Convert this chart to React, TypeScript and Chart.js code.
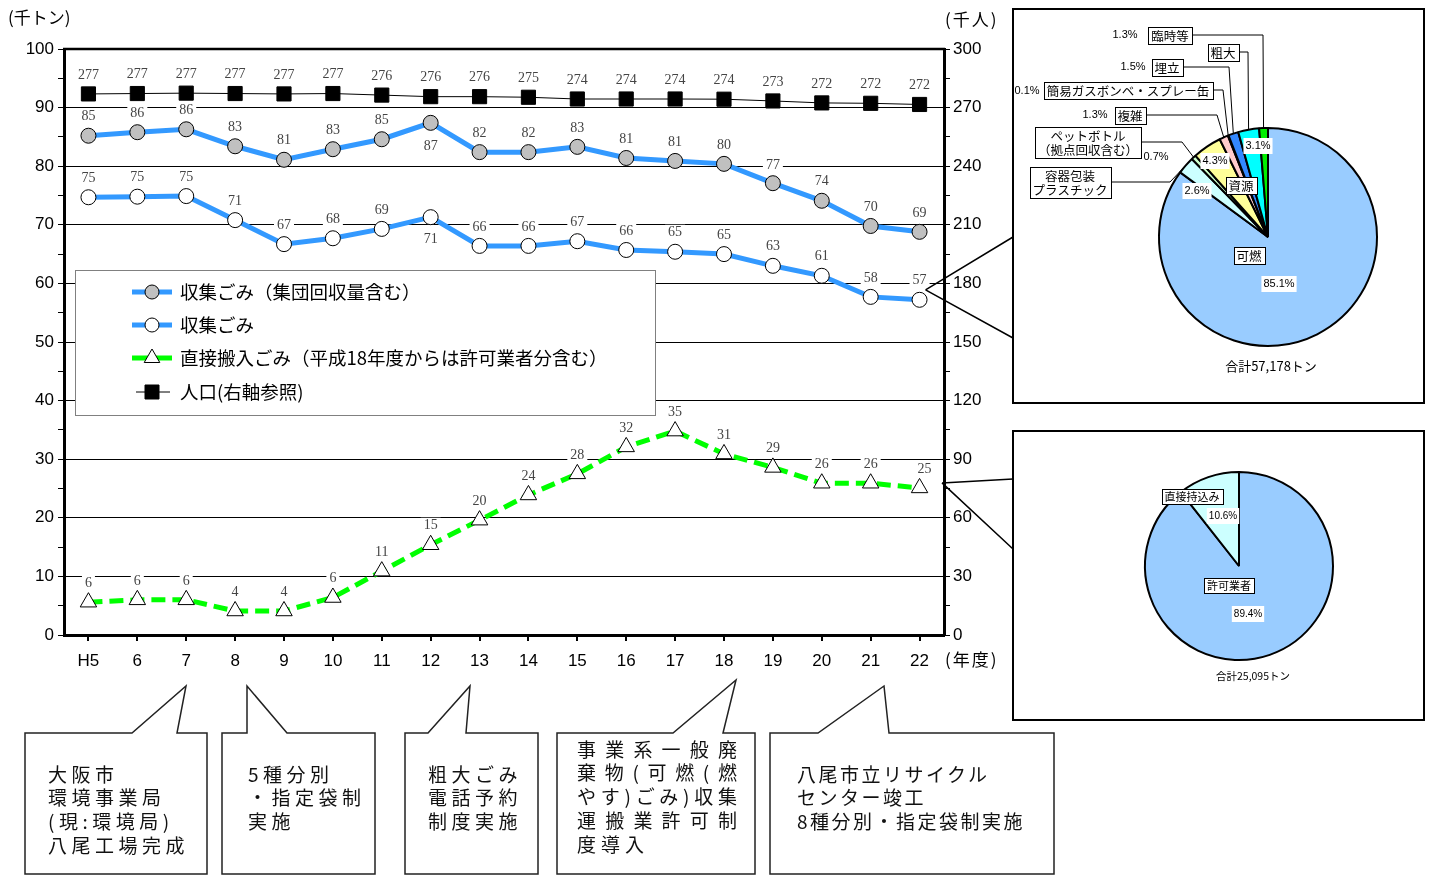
import React, { useEffect, useRef } from 'react';
import { Chart, registerables } from 'chart.js';

Chart.register(...registerables);

// 年度
const fiscalYears = ['H5', '6', '7', '8', '9', '10', '11', '12', '13', '14', '15', '16', '17', '18', '19', '20', '21', '22'];
// 千トン
const collectedWithGroup = [85.2, 85.8, 86.3, 83.4, 81.1, 82.9, 84.6, 87.4, 82.4, 82.4, 83.3, 81.4, 80.9, 80.4, 77.1, 74.1, 69.8, 68.8];
const collected = [74.7, 74.8, 74.9, 70.8, 66.7, 67.7, 69.3, 71.3, 66.4, 66.4, 67.2, 65.7, 65.4, 65.0, 63.0, 61.3, 57.7, 57.2];
const directlyDelivered = [5.6, 6.0, 6.0, 4.1, 4.1, 6.4, 10.9, 15.4, 19.6, 23.9, 27.5, 32.1, 34.8, 30.9, 28.6, 25.9, 25.9, 25.1];
// 千人
const population = [277.0, 277.2, 277.4, 277.2, 277.0, 277.2, 276.4, 275.6, 275.6, 275.3, 274.4, 274.4, 274.4, 274.3, 273.4, 272.4, 272.2, 271.6];

const seriesNames = [
  '収集ごみ（集団回収量含む）',
  '収集ごみ',
  '直接搬入ごみ（平成18年度からは許可業者分含む）',
  '人口(右軸参照)',
];

const tonnageTicks = [0, 10, 20, 30, 40, 50, 60, 70, 80, 90, 100];
const populationTicks = [0, 30, 60, 90, 120, 150, 180, 210, 240, 270, 300];

// 平成22年度 収集ごみ内訳 (%)
const compositionNames = [
  ['可燃'],
  ['容器包装', 'プラスチック'],
  ['ペットボトル', '（拠点回収含む）'],
  ['資源'],
  ['複雑'],
  ['簡易ガスボンベ・スプレー缶'],
  ['埋立'],
  ['粗大'],
  ['臨時等'],
];
const compositionShares = [85.1, 2.6, 0.7, 4.3, 1.3, 0.1, 1.5, 3.1, 1.3];
const compositionColors = ['#99CCFF', '#CCFFFF', '#CCFFCC', '#FFFF99', '#FFCCCC', '#FF99CC', '#3388FF', '#00FFFF', '#00EE00'];
const compositionTotal = 57178;

// 平成22年度 直接搬入ごみ内訳 (%)
const sourceNames = [['許可業者'], ['直接持込み']];
const sourceShares = [89.4, 10.6];
const sourceColors = ['#99CCFF', '#CCFFFF'];
const sourceTotal = 25095;

const SERIF = '"Liberation Serif", "DejaVu Serif", serif';
const SANS = '"Liberation Sans", Arial, sans-serif';
const JP = '"Noto Sans CJK JP", "Noto Sans", sans-serif';
const BLUE = '#3399FF';
const GREEN = '#00FF00';

// per-point label offsets (dx, dy) relative to the marker
const DEFAULT_SHIFT: [number, number] = [0, -19];
const labelShifts: Array<Record<number, [number, number]>> = [
  { 7: [0, 23], 14: [0, -18] },
  { 7: [0, 22] },
  { 17: [5, -19] },
  {},
];

function labelAnchors(chart: any) {
  const out: { x: number; y: number; text: string }[] = [];
  chart.data.datasets.forEach((ds: any, di: number) => {
    const meta = chart.getDatasetMeta(di);
    meta.data.forEach((el: any, i: number) => {
      const s = labelShifts[di][i] || DEFAULT_SHIFT;
      out.push({ x: el.x + s[0], y: el.y + s[1], text: String(Math.round(ds.data[i])) });
    });
  });
  return out;
}

function drawMarker(ctx: CanvasRenderingContext2D, kind: string, x: number, y: number, fill: string) {
  ctx.save();
  ctx.fillStyle = fill;
  ctx.strokeStyle = '#000';
  ctx.lineWidth = 1;
  ctx.beginPath();
  if (kind === 'circle') {
    ctx.arc(x, y, 7, 0, Math.PI * 2);
  } else if (kind === 'triangle') {
    const r = 9;
    ctx.moveTo(x, y - r);
    ctx.lineTo(x + r * 0.866, y + r * 0.5);
    ctx.lineTo(x - r * 0.866, y + r * 0.5);
    ctx.closePath();
  } else {
    ctx.rect(x - 7, y - 7, 14, 14);
  }
  ctx.fill();
  ctx.stroke();
  ctx.restore();
}

const legendRows = [
  { ds: 0, y: 292, color: BLUE, width: 5, marker: 'circle', fill: '#C0C0C0', from: 132, to: 172 },
  { ds: 1, y: 325, color: BLUE, width: 5, marker: 'circle', fill: '#FFFFFF', from: 132, to: 172 },
  { ds: 2, y: 358, color: GREEN, width: 5, marker: 'triangle', fill: '#FFFFFF', from: 132, to: 172 },
  { ds: 3, y: 392, color: '#000', width: 1, marker: 'rect', fill: '#000', from: 136, to: 170 },
];

const trendPlugin = {
  id: 'trendDecor',
  beforeDatasetsDraw(chart: any) {
    const ctx: CanvasRenderingContext2D = chart.ctx;
    ctx.save();
    // legend
    ctx.fillStyle = '#fff';
    ctx.fillRect(75, 270, 580, 145);
    ctx.strokeStyle = '#808080';
    ctx.lineWidth = 1;
    ctx.strokeRect(75.5, 270.5, 580, 145);
    legendRows.forEach((r) => {
      ctx.strokeStyle = r.color;
      ctx.lineWidth = r.width;
      ctx.beginPath();
      ctx.moveTo(r.from, r.y);
      ctx.lineTo(r.to, r.y);
      ctx.stroke();
      drawMarker(ctx, r.marker, 152, r.y, r.fill);
      ctx.fillStyle = '#000';
      ctx.font = `18.5px ${JP}`;
      ctx.textAlign = 'left';
      ctx.textBaseline = 'middle';
      ctx.fillText(chart.data.datasets[r.ds].label, 180, r.y);
    });
    // white pads behind the value labels
    ctx.font = `14px ${SERIF}`;
    ctx.fillStyle = '#fff';
    labelAnchors(chart).forEach((a) => {
      const w = ctx.measureText(a.text).width;
      ctx.fillRect(a.x - w / 2 - 3, a.y - 8, w + 6, 16);
    });
    ctx.restore();
  },
  afterDatasetsDraw(chart: any) {
    const ctx: CanvasRenderingContext2D = chart.ctx;
    ctx.save();
    ctx.font = `14px ${SERIF}`;
    ctx.fillStyle = '#444';
    ctx.textAlign = 'center';
    ctx.textBaseline = 'middle';
    labelAnchors(chart).forEach((a) => ctx.fillText(a.text, a.x, a.y));
    ctx.restore();
  },
  afterDraw(chart: any) {
    const ctx: CanvasRenderingContext2D = chart.ctx;
    const area = chart.chartArea;
    ctx.save();
    // frame top
    ctx.strokeStyle = '#000';
    ctx.lineWidth = 2.5;
    ctx.beginPath();
    ctx.moveTo(area.left - 1, area.top);
    ctx.lineTo(area.right + 1, area.top);
    ctx.stroke();
    // unit captions
    ctx.fillStyle = '#000';
    ctx.font = `17px ${JP}`;
    ctx.textBaseline = 'middle';
    ctx.textAlign = 'left';
    (ctx as any).letterSpacing = '0px';
    ctx.fillText('(千トン)', 8, 18);
    (ctx as any).letterSpacing = '2px';
    ctx.fillText('(千人)', 945, 20);
    ctx.fillText('(年度)', 945, 660);
    (ctx as any).letterSpacing = '0px';
    // side panels
    ctx.lineWidth = 2;
    ctx.strokeRect(1013, 9, 411, 394);
    ctx.strokeRect(1013, 431, 411, 289);
    // connectors from the latest year to the breakdown panels
    const pW = chart.getDatasetMeta(1).data[fiscalYears.length - 1];
    const pG = chart.getDatasetMeta(2).data[fiscalYears.length - 1];
    ctx.lineWidth = 1.5;
    ctx.beginPath();
    ctx.moveTo(pW.x + 6, pW.y - 10);
    ctx.lineTo(1013, 237);
    ctx.moveTo(pW.x + 6, pW.y - 10);
    ctx.lineTo(1013, 338);
    ctx.moveTo(area.right - 2, pG.y - 5);
    ctx.lineTo(1013, 479);
    ctx.moveTo(area.right - 2, pG.y - 5);
    ctx.lineTo(1013, 549);
    ctx.stroke();
    ctx.restore();
  },
};

type PieNote = { box: [number, number]; pct: [number, number]; pctBg?: boolean; bend?: number };

const compositionNotes: PieNote[] = [
  { box: [1249, 255], pct: [1279, 284], pctBg: true },
  { box: [1070, 182], pct: [1197, 191], pctBg: true, bend: 1170 },
  { box: [1088, 142], pct: [1156, 157], bend: 1182 },
  { box: [1241, 185], pct: [1215, 161], pctBg: true },
  { box: [1130, 115], pct: [1095, 115], bend: 1217 },
  { box: [1128, 90], pct: [1027, 91], bend: 1223 },
  { box: [1167, 67], pct: [1133, 67], bend: 1229 },
  { box: [1223, 52], pct: [1258, 146], pctBg: true, bend: 1248 },
  { box: [1170, 35], pct: [1125, 35], bend: 1263 },
];

const sourceNotes: PieNote[] = [
  { box: [1229, 585], pct: [1248, 614], pctBg: true },
  { box: [1192, 496], pct: [1223, 516], pctBg: true },
];

function pieNotesPlugin(opts: {
  origin: [number, number];
  names: string[][];
  shares: number[];
  notes: PieNote[];
  total: number;
  totalAt: [number, number];
  nameFont: string;
  nameLine: number;
  pctFont: string;
  totalFont: string;
}) {
  return {
    id: 'pieNotes',
    afterDraw(chart: any) {
      const ctx: CanvasRenderingContext2D = chart.ctx;
      const arcs = chart.getDatasetMeta(0).data;
      const [ox, oy] = opts.origin;
      ctx.save();
      // annotation positions are given in page coordinates
      ctx.translate(-ox, -oy);
      ctx.textAlign = 'center';
      ctx.textBaseline = 'middle';
      opts.notes.forEach((n, i) => {
        const lines = opts.names[i];
        ctx.font = opts.nameFont;
        const w = Math.round(Math.max(...lines.map((l) => ctx.measureText(l).width)) + 6);
        const h = lines.length * opts.nameLine + 3;
        const bx = Math.round(n.box[0] - w / 2);
        const by = Math.round(n.box[1] - h / 2);
        if (n.bend !== undefined) {
          const a = arcs[i];
          const mid = (a.startAngle + a.endAngle) / 2;
          const px = ox + a.x + Math.cos(mid) * a.outerRadius;
          const py = oy + a.y + Math.sin(mid) * a.outerRadius;
          ctx.strokeStyle = '#000';
          ctx.lineWidth = 1;
          ctx.beginPath();
          ctx.moveTo(bx + w, n.box[1]);
          ctx.lineTo(n.bend, n.box[1]);
          ctx.lineTo(px, py);
          ctx.stroke();
        }
        ctx.fillStyle = '#fff';
        ctx.fillRect(bx, by, w, h);
        ctx.strokeStyle = '#000';
        ctx.lineWidth = 1;
        ctx.strokeRect(bx + 0.5, by + 0.5, w, h);
        ctx.fillStyle = '#000';
        lines.forEach((l, k) => ctx.fillText(l, n.box[0], by + 2 + opts.nameLine * (k + 0.5)));
        ctx.font = opts.pctFont;
        const t = opts.shares[i].toFixed(1) + '%';
        if (n.pctBg) {
          const tw = ctx.measureText(t).width;
          ctx.fillStyle = '#fff';
          ctx.fillRect(n.pct[0] - tw / 2 - 2, n.pct[1] - 8, tw + 4, 16);
        }
        ctx.fillStyle = '#000';
        ctx.fillText(t, n.pct[0], n.pct[1]);
      });
      ctx.font = opts.totalFont;
      ctx.fillStyle = '#000';
      ctx.fillText(`合計${opts.total.toLocaleString('en-US')}トン`, opts.totalAt[0], opts.totalAt[1]);
      ctx.restore();
    },
  };
}

const callouts = [
  { shape: 'M25,733 H132 L186,686 L177,733 H207 V874 H25 Z', x: 48, y: 773, lines: ['大阪市', '環境事業局', '(現:環境局)', '八尾工場完成'], spacing: 4.5, justify: 0, justifyRows: 0 },
  { shape: 'M222,733 H247 V686 L287,733 H375 V874 H222 Z', x: 248, y: 773, lines: ['5種分別', '・指定袋制', '実施'], spacing: 4.5, justify: 0, justifyRows: 0 },
  { shape: 'M405,733 H428 L470,686 L466,733 H538 V874 H405 Z', x: 428, y: 773, lines: ['粗大ごみ', '電話予約', '制度実施'], spacing: 4.5, justify: 0, justifyRows: 0 },
  { shape: 'M557,733 H673 L736,680 L723,733 H755 V874 H557 Z', x: 577, y: 748, lines: ['事業系一般廃', '棄物(可燃(燃', 'やす)ごみ)収集', '運搬業許可制', '度導入'], spacing: 5, justify: 160, justifyRows: 4 },
  { shape: 'M770,733 H818 L884,686 L889,733 H1054 V874 H770 Z', x: 797, y: 773, lines: ['八尾市立リサイクル', 'センター竣工', '8種分別・指定袋制実施'], spacing: 2.5, justify: 0, justifyRows: 0 },
];

export default function App() {
  const mainRef = useRef<HTMLCanvasElement>(null);
  const pie1Ref = useRef<HTMLCanvasElement>(null);
  const pie2Ref = useRef<HTMLCanvasElement>(null);

  useEffect(() => {
    const tMin = tonnageTicks[0];
    const tMax = tonnageTicks[tonnageTicks.length - 1];
    const tStep = tonnageTicks[1] - tonnageTicks[0];
    const pMin = populationTicks[0];
    const pMax = populationTicks[populationTicks.length - 1];
    const pStep = populationTicks[1] - populationTicks[0];

    const main = new Chart(mainRef.current!, {
      type: 'line',
      data: {
        labels: fiscalYears,
        datasets: [
          {
            label: seriesNames[0],
            data: collectedWithGroup,
            yAxisID: 'y',
            borderColor: BLUE,
            borderWidth: 5,
            pointStyle: 'circle',
            pointRadius: 7.5,
            pointBackgroundColor: '#C0C0C0',
            pointBorderColor: '#000',
            pointBorderWidth: 1,
          },
          {
            label: seriesNames[1],
            data: collected,
            yAxisID: 'y',
            borderColor: BLUE,
            borderWidth: 5,
            pointStyle: 'circle',
            pointRadius: 7.5,
            pointBackgroundColor: '#FFFFFF',
            pointBorderColor: '#000',
            pointBorderWidth: 1,
          },
          {
            label: seriesNames[2],
            data: directlyDelivered,
            yAxisID: 'y',
            borderColor: GREEN,
            borderWidth: 5,
            borderDash: [14, 7],
            pointStyle: 'triangle',
            pointRadius: 9.5,
            pointBackgroundColor: '#FFFFFF',
            pointBorderColor: '#000',
            pointBorderWidth: 1,
          },
          {
            label: seriesNames[3],
            data: population,
            yAxisID: 'y1',
            borderColor: '#000',
            borderWidth: 1,
            pointStyle: 'rect',
            pointRadius: 10,
            pointBackgroundColor: '#000',
            pointBorderColor: '#000',
            pointBorderWidth: 1,
          },
        ],
      },
      options: {
        animation: false,
        responsive: false,
        devicePixelRatio: 1,
        layout: { padding: { left: 0, top: 49, right: 428, bottom: 201 } },
        plugins: { legend: { display: false }, tooltip: { enabled: false } },
        scales: {
          x: {
            type: 'category',
            offset: true,
            grid: { offset: false, drawOnChartArea: false, color: '#000', lineWidth: 2, tickLength: 6 },
            border: { color: '#000', width: 3 },
            ticks: { color: '#000', font: { family: SANS, size: 17 }, padding: 10, maxRotation: 0, autoSkip: false },
            afterFit: (s: any) => { s.height = 40; },
          },
          y: {
            position: 'left',
            min: tMin,
            max: tMax,
            ticks: {
              stepSize: tStep / 2,
              autoSkip: false,
              color: '#000',
              font: { family: SANS, size: 17 },
              padding: 4,
              callback: (v: any) => (tonnageTicks.includes(Number(v)) ? String(v) : ''),
            },
            grid: {
              color: (c: any) => (c.tick && c.tick.value % tStep === 0 && c.tick.value > tMin && c.tick.value < tMax ? '#000' : 'rgba(0,0,0,0)'),
              tickColor: '#000',
              tickLength: 6,
              lineWidth: 1,
            },
            border: { color: '#000', width: 3 },
            afterFit: (s: any) => { s.width = 64; },
          },
          y1: {
            position: 'right',
            min: pMin,
            max: pMax,
            ticks: {
              stepSize: pStep / 2,
              autoSkip: false,
              color: '#000',
              font: { family: SANS, size: 17 },
              padding: 3,
              callback: (v: any) => (populationTicks.includes(Number(v)) ? String(v) : ''),
            },
            grid: { drawOnChartArea: false, color: '#000', tickColor: '#000', tickLength: 6 },
            border: { color: '#000', width: 3 },
            afterFit: (s: any) => { s.width = 60; },
          },
        },
      },
      plugins: [trendPlugin],
    } as any);

    const pie1 = new Chart(pie1Ref.current!, {
      type: 'pie',
      data: {
        labels: compositionNames.map((n) => n.join('')),
        datasets: [{ data: compositionShares, backgroundColor: compositionColors, borderColor: '#000', borderWidth: 2 }],
      },
      options: {
        animation: false,
        responsive: false,
        devicePixelRatio: 1,
        layout: { padding: { left: 144, right: 45, top: 117, bottom: 55 } },
        plugins: { legend: { display: false }, tooltip: { enabled: false } },
      },
      plugins: [
        pieNotesPlugin({
          origin: [1014, 10],
          names: compositionNames,
          shares: compositionShares,
          notes: compositionNotes,
          total: compositionTotal,
          totalAt: [1271, 366],
          nameFont: `12.5px ${JP}`,
          nameLine: 14,
          pctFont: `11px ${SANS}`,
          totalFont: `13px ${JP}`,
        }),
      ],
    } as any);

    const pie2 = new Chart(pie2Ref.current!, {
      type: 'pie',
      data: {
        labels: sourceNames.map((n) => n.join('')),
        datasets: [{ data: sourceShares, backgroundColor: sourceColors, borderColor: '#000', borderWidth: 2 }],
      },
      options: {
        animation: false,
        responsive: false,
        devicePixelRatio: 1,
        layout: { padding: { left: 130, right: 89, top: 39, bottom: 58 } },
        plugins: { legend: { display: false }, tooltip: { enabled: false } },
      },
      plugins: [
        pieNotesPlugin({
          origin: [1014, 432],
          names: sourceNames,
          shares: sourceShares,
          notes: sourceNotes,
          total: sourceTotal,
          totalAt: [1253, 676],
          nameFont: `11px ${JP}`,
          nameLine: 12,
          pctFont: `10px ${SANS}`,
          totalFont: `10.5px ${JP}`,
        }),
      ],
    } as any);

    return () => {
      main.destroy();
      pie1.destroy();
      pie2.destroy();
    };
  }, []);

  const abs = (l: number, t: number, w: number, h: number): React.CSSProperties => ({
    position: 'absolute', left: l, top: t, width: w, height: h,
  });

  return (
    <div style={{ ...abs(0, 0, 1432, 876), background: '#fff', overflow: 'hidden' }}>
      <canvas ref={mainRef} width={1432} height={876} style={abs(0, 0, 1432, 876)} />
      <canvas ref={pie1Ref} width={409} height={392} style={abs(1014, 10, 409, 392)} />
      <canvas ref={pie2Ref} width={409} height={287} style={abs(1014, 432, 409, 287)} />
      <svg width={1432} height={876} style={{ ...abs(0, 0, 1432, 876), pointerEvents: 'none' }}>
        {callouts.map((c, i) => (
          <g key={i}>
            <path d={c.shape} fill="#fff" stroke="#222" strokeWidth={1.5} />
            {c.lines.map((line, k) => {
              const justified = k < c.justifyRows;
              return (
                <text
                  key={k}
                  x={c.x}
                  y={c.y + k * 23.8}
                  dominantBaseline="central"
                  fontFamily={JP}
                  fontSize={19}
                  fill="#111"
                  letterSpacing={justified ? undefined : c.spacing}
                  textLength={justified ? c.justify : undefined}
                  lengthAdjust={justified ? 'spacing' : undefined}
                >
                  {line}
                </text>
              );
            })}
          </g>
        ))}
      </svg>
    </div>
  );
}
